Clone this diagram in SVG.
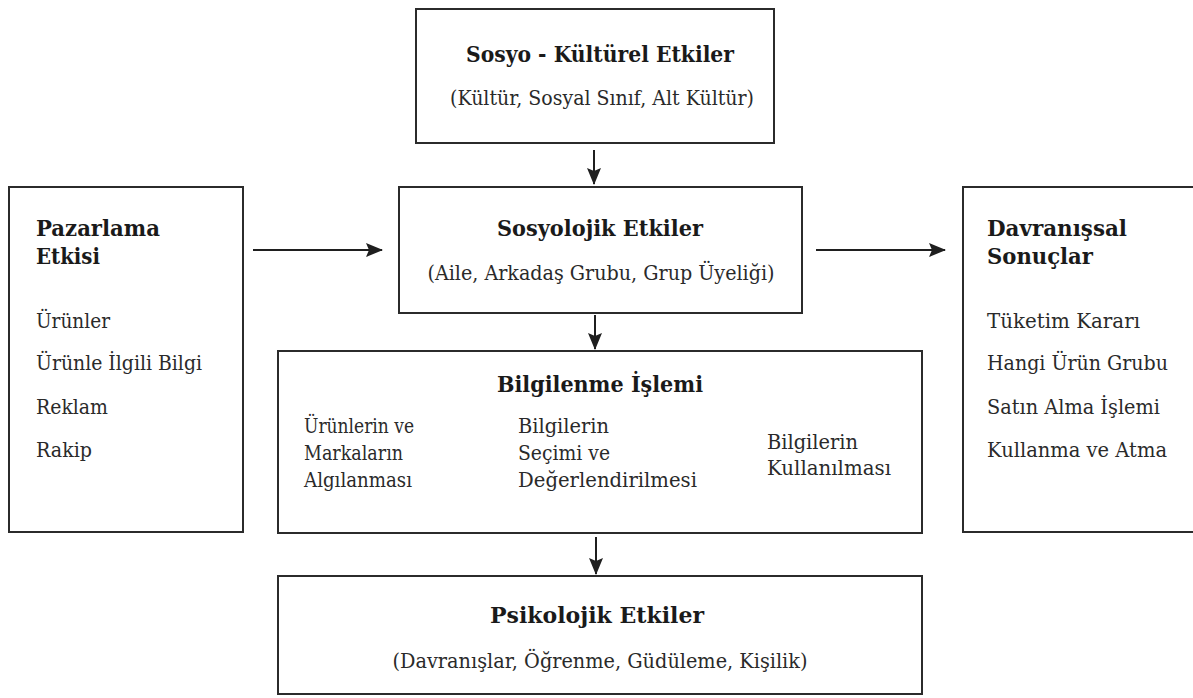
<svg xmlns="http://www.w3.org/2000/svg" width="1193" height="698" viewBox="0 0 1193 698">
<style>
.box{fill:#fff;stroke:#2b2b2b;stroke-width:2}
.t{font-family:"DejaVu Serif","Liberation Serif",serif;fill:#1a1a1a}
.b{font-weight:bold;font-size:22px}
.r{font-size:20.5px;fill:#2a2a2a}
.c{text-anchor:middle}
.ln{stroke:#1f1f1f;stroke-width:2;fill:none;marker-end:url(#ah)}
</style>
<defs>
<marker id="ah" markerUnits="userSpaceOnUse" markerWidth="17" markerHeight="15" refX="16" refY="7" orient="auto">
<path d="M0,0 L17,7 L0,14 L3,7 Z" fill="#1f1f1f"/>
</marker>
</defs>
<rect width="1193" height="698" fill="#fff"/>
<g id="connectors">
<line class="ln" x1="594" y1="150" x2="594" y2="184"/>
<line class="ln" x1="595" y1="315" x2="595" y2="349"/>
<line class="ln" x1="596" y1="537" x2="596" y2="574"/>
<line class="ln" x1="253" y1="250" x2="382" y2="250"/>
<line class="ln" x1="816" y1="250" x2="945" y2="250"/>
</g>
<g id="sosyo-kulturel">
<rect class="box" x="416" y="9" width="358" height="134"/>
<text class="t b c" x="600" y="62" textLength="268" lengthAdjust="spacingAndGlyphs">Sosyo - Kültürel Etkiler</text>
<text class="t r c" x="602" y="105" textLength="304" lengthAdjust="spacingAndGlyphs">(Kültür, Sosyal Sınıf, Alt Kültür)</text>
</g>
<g id="sosyolojik">
<rect class="box" x="399" y="187" width="403" height="126"/>
<text class="t b c" x="600" y="236" textLength="206" lengthAdjust="spacingAndGlyphs">Sosyolojik Etkiler</text>
<text class="t r c" x="601" y="280" textLength="347" lengthAdjust="spacingAndGlyphs">(Aile, Arkadaş Grubu, Grup Üyeliği)</text>
</g>
<g id="pazarlama">
<rect class="box" x="9" y="187" width="234" height="345"/>
<text class="t b" x="36" y="236" textLength="124" lengthAdjust="spacingAndGlyphs">Pazarlama</text>
<text class="t b" x="36" y="264" textLength="64" lengthAdjust="spacingAndGlyphs">Etkisi</text>
<text class="t r" x="36" y="328" textLength="74" lengthAdjust="spacingAndGlyphs">Ürünler</text>
<text class="t r" x="36" y="370" textLength="166" lengthAdjust="spacingAndGlyphs">Ürünle İlgili Bilgi</text>
<text class="t r" x="36" y="414" textLength="72" lengthAdjust="spacingAndGlyphs">Reklam</text>
<text class="t r" x="36" y="457" textLength="56" lengthAdjust="spacingAndGlyphs">Rakip</text>
</g>
<g id="davranissal">
<rect class="box" x="963" y="187" width="240" height="345"/>
<text class="t b" x="987" y="236" textLength="140" lengthAdjust="spacingAndGlyphs">Davranışsal</text>
<text class="t b" x="987" y="264" textLength="106" lengthAdjust="spacingAndGlyphs">Sonuçlar</text>
<text class="t r" x="987" y="328" textLength="153" lengthAdjust="spacingAndGlyphs">Tüketim Kararı</text>
<text class="t r" x="987" y="370" textLength="181" lengthAdjust="spacingAndGlyphs">Hangi Ürün Grubu</text>
<text class="t r" x="987" y="414" textLength="173" lengthAdjust="spacingAndGlyphs">Satın Alma İşlemi</text>
<text class="t r" x="987" y="457" textLength="180" lengthAdjust="spacingAndGlyphs">Kullanma ve Atma</text>
</g>
<g id="bilgilenme">
<rect class="box" x="278" y="351" width="644" height="182"/>
<text class="t b c" x="600" y="392" textLength="206" lengthAdjust="spacingAndGlyphs">Bilgilenme İşlemi</text>
<text class="t r" x="304" y="433" textLength="110" lengthAdjust="spacingAndGlyphs">Ürünlerin ve</text>
<text class="t r" x="304" y="460" textLength="99" lengthAdjust="spacingAndGlyphs">Markaların</text>
<text class="t r" x="304" y="487" textLength="108" lengthAdjust="spacingAndGlyphs">Algılanması</text>
<text class="t r" x="518" y="433" textLength="91" lengthAdjust="spacingAndGlyphs">Bilgilerin</text>
<text class="t r" x="518" y="460" textLength="92" lengthAdjust="spacingAndGlyphs">Seçimi ve</text>
<text class="t r" x="518" y="487" textLength="179" lengthAdjust="spacingAndGlyphs">Değerlendirilmesi</text>
<text class="t r" x="767" y="449" textLength="91" lengthAdjust="spacingAndGlyphs">Bilgilerin</text>
<text class="t r" x="767" y="475" textLength="124" lengthAdjust="spacingAndGlyphs">Kullanılması</text>
</g>
<g id="psikolojik">
<rect class="box" x="278" y="576" width="644" height="118"/>
<text class="t b c" x="597" y="623" textLength="214" lengthAdjust="spacingAndGlyphs">Psikolojik Etkiler</text>
<text class="t r c" x="600" y="668" textLength="415" lengthAdjust="spacingAndGlyphs">(Davranışlar, Öğrenme, Güdüleme, Kişilik)</text>
</g>
</svg>
